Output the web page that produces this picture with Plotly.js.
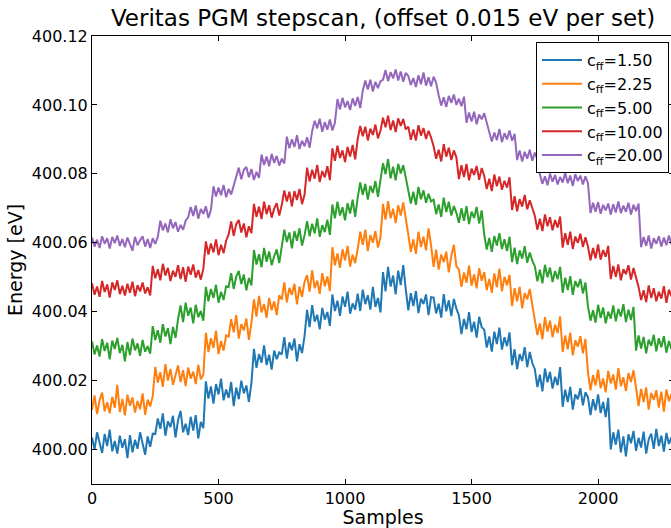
<!DOCTYPE html>
<html>
<head>
<meta charset="utf-8">
<script src="https://cdn.plot.ly/plotly-3.0.1.min.js"></script>
<style>
html,body{margin:0;padding:0;overflow:hidden;background:#fff;width:671px;height:528px;}
#chart{width:680px;height:528px;}
</style>
</head>
<body>
<div id="chart"></div>
<script>
// Sample spacing of the listed points (samples per point)
const sampleStep = 10;

// Series labels (c_ff values) and colours
const seriesNames = ["c<sub>ff</sub>=1.50", "c<sub>ff</sub>=2.25", "c<sub>ff</sub>=5.00", "c<sub>ff</sub>=10.00", "c<sub>ff</sub>=20.00"];
const seriesColors = ["#1f77b4", "#ff7f0e", "#2ca02c", "#d62728", "#9467bd"];

// Energies in meV above 400 eV, one value every 10 samples
const cff150 = [
3.5,0.0,5.0,1.5,-1.0,4.5,1.0,5.8,-0.5,2.5,-1.2,4.0,0.5,3.0,-2.5,4.2,-0.8,2.8,0.2,5.0,1.2,-1.5,3.8,0.8,4.6,
4.5,9.0,6.0,10.5,4.0,8.2,6.5,9.8,3.5,8.5,11.2,5.0,7.5,4.2,9.5,5.5,10.0,3.2,8.0,6.2,
19.8,14.8,18.3,13.3,19.0,16.0,20.6,14.3,17.4,15.0,19.6,12.6,18.0,14.6,20.0,16.3,18.6,13.8,19.3,
29.2,23.7,27.7,25.2,30.2,24.5,27.5,23.2,28.7,26.2,28.2,
27.6,32.6,26.4,31.1,28.8,32.2,25.6,30.6,28.0,33.0,
40.5,35.5,41.9,37.1,39.1,34.9,41.1,37.7,39.9,35.9,
45.0,40.2,43.2,38.8,44.4,41.4,45.8,39.4,42.4,40.6,
45.2,40.2,46.4,42.2,44.8,40.6,47.2,41.4,44.0,39.8,
51.5,45.9,53.0,47.3,50.5,45.0,51.9,47.7,53.5,46.5,
40.4,45.4,41.6,46.0,39.6,43.8,42.2,45.0,39.0,44.2,
44.1,39.5,42.3,38.3,45.1,40.1,43.3,38.7,43.7,40.9,
38.9,33.5,37.9,34.9,39.9,34.1,37.1,32.5,38.5,35.5,
34.8,29.6,32.8,28.4,34.2,30.6,35.4,29.0,32.6,30.0,34.0,
24.5,29.1,23.3,27.7,25.7,29.7,23.9,28.3,25.1,
23.3,18.1,21.7,16.9,23.5,19.5,22.5,17.7,21.1,18.7,23.9,
12.4,17.4,13.8,18.2,11.6,16.0,14.6,17.8,12.8,16.6,
15.2,10.0,14.6,11.4,16.0,10.6,13.8,9.4,15.0,
0.0,5.0,1.4,5.8,-0.8,3.8,-2.0,4.4,1.8,5.4,-0.4,3.4,0.6,5.2,-1.2,3.0,4.6,0.2,6.0,1.0,4.0,-0.6,4.8,1.6,3.6
];

const cff225 = [
11.5,15.7,10.3,14.3,16.5,11.1,13.7,10.5,15.3,12.1,18.8,10.9,14.7,9.9,15.9,12.7,15.1,10.7,14.1,11.7,16.3,10.1,14.5,12.5,15.5,
24.0,19.4,22.4,18.2,24.8,20.0,23.4,18.8,22.0,24.4,19.6,23.0,18.4,23.8,20.6,22.6,19.0,24.6,20.4,21.8,
33.9,28.3,32.3,29.5,34.5,27.7,31.5,28.7,33.1,
32.8,37.8,34.0,39.0,32.2,36.4,34.6,38.0,31.8,36.8,
43.6,38.6,44.6,39.8,42.2,38.2,44.0,40.4,43.0,39.0,44.8,
43.5,48.5,42.7,46.9,44.9,48.1,42.1,47.3,44.3,48.7,
50.6,45.8,52.0,46.8,49.0,45.2,51.2,47.4,50.2,46.0,
58.7,53.5,56.9,52.7,58.1,54.9,59.1,53.1,56.5,54.1,
58.2,63.2,59.4,63.8,57.6,62.2,60.0,63.4,58.6,61.6,
71.3,66.7,72.1,67.1,69.9,65.7,70.9,67.9,71.7,66.3,
62.4,57.4,61.0,56.8,63.2,58.8,61.8,57.8,64.2,59.2,
53.0,58.0,52.2,56.6,54.4,57.4,51.4,56.2,59.4,53.2,
52.2,47.2,51.4,48.4,53.4,47.6,50.8,46.8,52.6,49.0,
51.5,46.3,49.5,45.5,51.1,47.1,52.5,45.9,50.1,47.7,50.7,
41.6,46.8,43.0,47.2,41.0,45.4,43.6,46.6,42.0,
38.0,33.2,36.6,32.0,38.4,34.2,37.4,32.6,36.2,33.8,38.6,
28.3,33.1,29.1,33.9,27.3,31.7,29.9,32.9,27.9,32.1,
22.4,17.2,21.6,18.6,23.2,17.8,20.6,16.6,22.8,19.2,21.8,17.4,23.6,18.4,21.0,17.0,22.2,19.6,23.0,18.0,
12.6,17.6,13.8,18.0,11.6,16.4,14.4,17.2,12.2,16.8,11.0,17.4,14.0,16.2
];

const cff500 = [
31.4,27.6,30.2,27.0,32.0,28.6,31.0,26.2,31.6,29.2,32.4,28.0,30.4,25.6,31.2,27.4,32.2,28.8,30.8,27.2,31.8,28.4,30.0,27.8,
35.8,31.8,34.6,31.0,36.4,32.8,35.2,30.6,35.6,32.4,
37.8,41.8,37.0,42.6,38.8,41.2,36.6,42.0,38.4,40.2,37.4,
47.2,43.0,46.6,44.0,47.8,42.6,45.8,43.4,47.4,
47.2,51.2,46.6,50.2,51.8,48.0,50.8,46.2,49.8,47.6,
57.9,53.7,56.7,52.9,58.5,54.5,57.5,53.5,56.1,58.1,54.1,
59.0,63.8,60.2,63.0,58.4,63.4,60.6,64.2,59.2,62.2,
66.3,61.9,65.5,62.7,67.1,61.7,65.1,63.1,66.7,62.3,
71.1,67.1,71.9,67.9,70.3,66.5,71.5,68.5,72.5,67.5,
73.1,77.5,73.9,77.1,72.5,76.5,74.5,77.9,73.3,
78.5,83.1,79.9,84.3,78.7,82.1,78.1,82.9,80.1,82.5,78.9,
75.6,71.4,74.8,71.0,76.2,72.6,75.2,71.6,74.2,72.0,
72.5,68.3,71.1,67.5,73.1,68.9,71.9,67.9,70.7,68.7,
65.8,70.0,66.4,70.6,65.4,69.0,67.2,70.4,65.6,69.4,
62.4,58.0,61.4,57.4,62.0,59.2,62.8,58.2,61.0,57.6,61.8,
54.4,58.6,53.8,57.8,55.4,59.0,54.2,57.2,54.8,
53.2,48.8,52.2,48.2,53.6,50.0,52.8,48.6,51.8,49.4,53.0,
45.5,49.9,46.3,50.3,44.9,48.9,47.1,49.5,45.3,48.5,
41.6,37.4,40.4,36.8,42.0,38.2,41.2,36.6,40.0,38.0,41.8,37.2,40.8,38.6,42.2,37.0,40.6,37.6,41.4,
28.7,33.1,29.3,32.7,27.9,31.9,30.1,33.3,28.5,32.3,29.7,32.9,28.1,31.5,29.1
];

const cff1000 = [
48.3,44.9,47.3,44.3,48.9,45.7,47.9,44.1,48.5,46.3,49.1,45.1,47.5,44.7,48.1,45.5,48.7,44.5,47.7,45.9,48.5,45.3,47.1,44.7,
53.3,49.7,52.3,49.1,53.9,50.5,52.7,48.9,51.9,50.1,53.5,49.5,52.9,48.7,53.1,50.7,53.7,49.9,52.1,49.3,52.5,
60.4,56.6,59.8,57.2,61.0,56.4,59.4,57.0,60.6,
62.4,66.2,62.0,65.4,66.6,63.0,65.6,61.6,64.8,62.8,
71.3,67.5,70.5,66.9,71.9,68.3,70.9,67.3,69.9,71.5,67.9,
71.0,75.2,72.0,74.8,70.6,75.0,72.4,75.6,71.2,74.0,
81.8,77.8,81.2,78.6,82.6,77.6,80.8,79.0,82.2,78.2,
87.4,83.8,88.2,84.6,86.8,83.4,87.8,85.0,88.4,84.2,
90.1,93.9,90.9,93.7,89.7,93.1,91.3,94.3,90.3,
92.5,96.3,93.5,96.9,92.7,95.5,92.1,96.1,93.9,95.9,92.9,
93.7,89.9,92.9,89.7,94.1,91.1,93.3,90.1,92.5,90.5,
88.0,84.4,87.0,83.6,88.6,85.0,87.6,84.0,86.8,84.8,
78.5,82.5,79.1,82.9,78.1,81.5,79.7,82.3,78.3,81.7,
79.4,75.6,78.6,75.0,79.8,76.4,79.2,75.4,78.0,76.0,79.0,
69.5,73.5,69.1,72.7,70.5,73.9,69.7,72.3,70.1,
67.8,63.8,67.0,63.4,68.2,64.8,67.4,63.6,66.6,64.4,67.6,
58.6,62.8,59.4,63.2,58.2,61.8,60.0,62.6,58.8,61.6,
58.9,54.9,58.5,55.5,59.5,55.1,57.9,55.9,59.1,
49.5,53.3,50.1,53.7,49.1,52.3,50.9,53.5,49.3,52.7,50.3,
47.2,43.4,46.2,42.8,47.6,44.0,46.8,43.0,45.8,43.8,47.4,42.6,46.4,44.4
];

const cff2000 = [
61.5,58.9,60.9,58.5,61.9,59.7,61.3,58.3,61.7,59.9,62.1,59.1,61.1,58.7,61.5,59.5,57.7,61.7,59.3,60.7,61.9,58.9,61.1,58.5,61.3,59.7,61.7,
66.4,63.6,65.6,63.0,66.8,64.2,66.0,63.2,65.2,63.8,66.4,
67.4,70.4,67.8,70.8,67.0,69.8,68.4,70.6,67.2,69.6,
76.4,73.4,76.0,73.8,76.8,73.2,75.6,74.0,76.6,
78.6,81.8,78.4,81.2,82.0,79.0,81.4,78.2,80.6,78.8,
85.6,82.6,85.0,82.2,85.8,83.2,85.2,82.4,84.4,83.0,
90.8,87.4,90.0,87.8,91.2,87.2,89.6,88.0,90.6,87.6,
92.4,95.4,93.2,96.0,92.2,95.0,92.8,95.8,92.6,94.8,
101.7,98.7,102.1,99.3,101.1,98.5,101.9,99.7,102.3,99.1,
104.1,107.1,104.5,107.3,103.9,106.7,104.9,106.9,
107.3,110.1,106.9,109.5,107.7,110.3,107.1,109.7,106.7,109.3,
108.4,105.8,107.8,105.2,108.6,106.0,109.4,105.6,108.0,105.4,108.2,106.4,
102.8,99.8,102.2,99.4,102.6,100.6,103.0,100.0,101.8,99.6,102.4,
94.8,97.8,95.2,98.0,94.4,97.2,95.8,97.6,95.0,
92.4,89.4,92.0,89.8,93.0,89.2,91.8,90.0,92.6,89.6,91.6,
84.0,86.8,83.6,86.4,84.4,87.0,83.8,86.2,84.2,
79.9,77.1,79.3,76.7,80.1,77.7,79.7,76.9,79.1,77.5,80.3,77.3,79.5,76.5,79.9,77.9,79.5,76.9,79.3,77.3,
68.6,71.6,69.0,71.8,68.4,71.0,69.4,71.4,68.2,71.2,68.8,72.0,68.6,70.8,69.0,71.6,68.2,71.0,69.2,71.4,
58.7,61.7,59.1,62.1,58.3,61.3,59.7,61.9,58.9,61.5,59.3,62.1,59.5
];

// Axis tick values
const xTicks = [0, 500, 1000, 1500, 2000];
const yTicks = [400.00, 400.02, 400.04, 400.06, 400.08, 400.10, 400.12];

const allSeries = [cff150, cff225, cff500, cff1000, cff2000];
const FONT = "DejaVu Sans, Verdana, sans-serif";

const traces = allSeries.map((vals, k) => ({
  type: "scatter",
  mode: "lines",
  name: seriesNames[k],
  x: vals.map((_, i) => i * sampleStep),
  y: vals.map(v => 400 + v / 1000),
  line: {color: seriesColors[k], width: 2},
  hoverinfo: "skip"
}));

const axisCommon = {
  showline: true, linecolor: "#000", linewidth: 1,
  mirror: "allticks", ticks: "inside", ticklen: 5, tickwidth: 1, tickcolor: "#000",
  showgrid: false, zeroline: false,
  tickfont: {family: FONT, size: 16, color: "#000"},
  automargin: false
};

const layout = {
  width: 680, height: 528,
  margin: {l: 92, r: 6, t: 36, b: 44},
  paper_bgcolor: "#fff", plot_bgcolor: "#fff",
  font: {family: FONT, color: "#000"},
  showlegend: true,
  title: {
    text: "Veritas PGM stepscan, (offset 0.015 eV per set)",
    font: {family: FONT, size: 23, color: "#000"},
    x: 383 / 680, xanchor: "center", xref: "container",
    y: 1 - 18 / 528, yanchor: "middle", yref: "container"
  },
  xaxis: Object.assign({}, axisCommon, {
    range: [0, 2300], tickvals: xTicks, ticktext: xTicks.map(String),
    title: {text: "Samples", font: {family: FONT, size: 19, color: "#000"}, standoff: 2}
  }),
  yaxis: Object.assign({}, axisCommon, {
    range: [399.99, 400.12], tickvals: yTicks, ticktext: yTicks.map(v => v.toFixed(2)),
    title: {text: "Energy [eV]", font: {family: FONT, size: 19, color: "#000"}, standoff: 4}
  }),
  legend: {
    x: (536 - 92) / 582, y: (484 - 42) / 448, xanchor: "left", yanchor: "top",
    bordercolor: "#000", borderwidth: 1, bgcolor: "#fff",
    font: {family: FONT, size: 16, color: "#000"},
    itemwidth: 40, tracegroupgap: 0
  }
};

Plotly.newPlot("chart", traces, layout, {displayModeBar: false, staticPlot: true});
</script>
</body>
</html>
